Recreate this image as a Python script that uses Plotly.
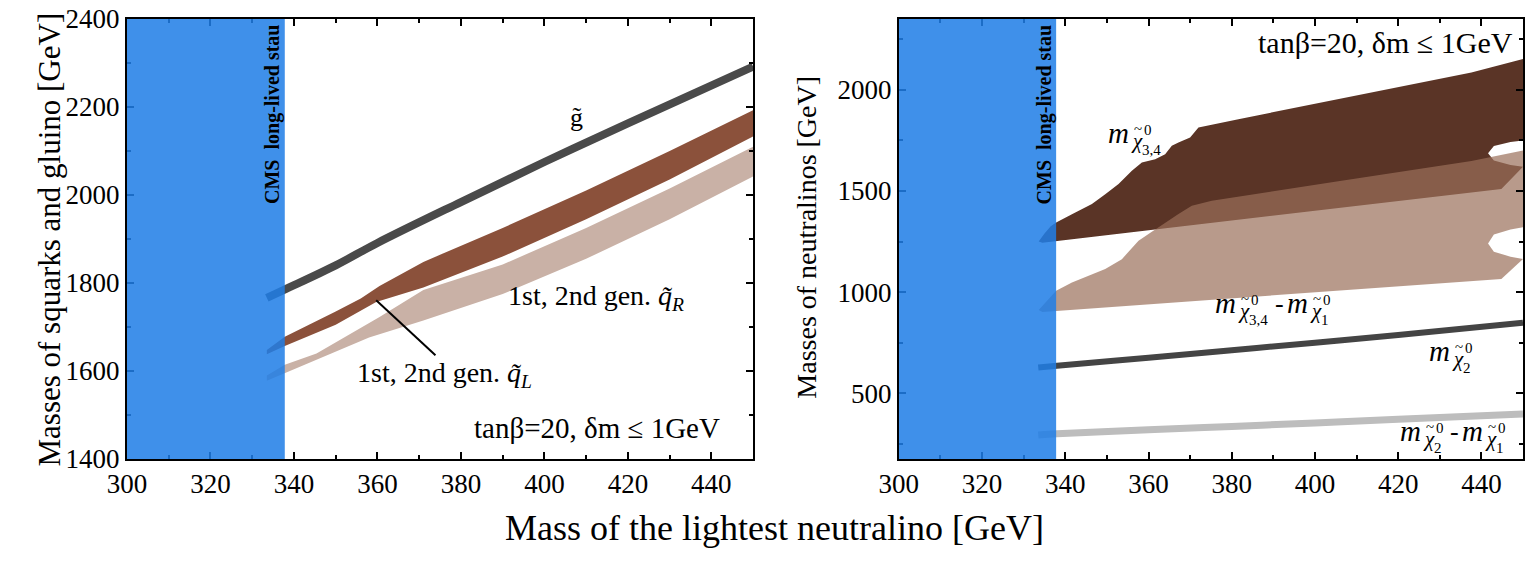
import plotly.graph_objects as go

# ---------------- data: left panel (squarks & gluino) ----------------
gluino_x = [333.5, 338, 350, 360, 380, 400, 420, 450]
gluino_y = [1766, 1786, 1840, 1891, 1984, 2075, 2163, 2292]

qR_up_x = [333.5, 337.8, 350, 356, 360.5, 371, 390, 410, 430, 450]
qR_up_y = [1648, 1678, 1735, 1765, 1793, 1848, 1925, 2010, 2100, 2193]
qR_lo_x = [333.5, 337.8, 350, 359.7, 371, 390, 410, 430, 450]
qR_lo_y = [1638, 1657, 1705, 1757, 1790, 1860, 1945, 2035, 2133]

qL_up_x = [333.5, 337.8, 345.4, 360.5, 371, 390, 410, 430, 450]
qL_up_y = [1590, 1614, 1640, 1723, 1784, 1842, 1925, 2015, 2110]
qL_lo_x = [333.5, 337.8, 358, 371, 390, 410, 430, 450]
qL_lo_y = [1578, 1595, 1676, 1715, 1775, 1855, 1945, 2042]

# ---------------- data: right panel (neutralinos) ----------------
chi34_up_x = [333.6, 335, 336.5, 337.8, 341.6, 346.4, 349.6, 352.8, 356, 358.4, 361.6, 364,
              365.6, 367.2, 370, 372, 381.6, 405.6, 437.6, 450]
chi34_up_y = [1250, 1290, 1325, 1344, 1385, 1435, 1484, 1534, 1600, 1641, 1657, 1682,
              1723, 1740, 1764, 1814, 1855, 1954, 2086, 2152]
chi34_edge_x = [450, 447, 443, 441.6, 443, 447, 450, 444.8, 337.8, 334.5]
chi34_edge_y = [1750, 1742, 1722, 1686, 1650, 1628, 1620, 1510, 1254, 1244]

dchi_up_x = [333.6, 335, 336.5, 337.8, 341.6, 349.6, 353.6, 357.6, 360, 364, 367.2, 370.4,
             375.2, 405.6, 437.6, 450]
dchi_up_y = [912, 945, 980, 1007, 1048, 1114, 1163, 1254, 1287, 1344, 1386, 1427,
             1451, 1548, 1648, 1700]
dchi_edge_x = [450, 447, 443, 441.6, 443, 447, 450, 444.8, 337.8, 334.5]
dchi_edge_y = [1320, 1310, 1285, 1240, 1200, 1175, 1164, 1065, 908, 902]

chi2_x = [333.5, 338, 360, 380, 400, 420, 450]
chi2_y = [627, 636, 676, 713, 750, 788, 849]

dchi2_x = [333.5, 338, 360, 380, 400, 420, 450]
dchi2_y = [294, 300, 319, 336, 353, 371, 397]

stau_limit = 337.8
x_range = [300, 450]
left_y_range = [1400, 2400]
right_y_range = [175, 2350]

FONT = "Liberation Serif"
BLUE = "rgba(32,126,231,0.86)"

fig = go.Figure()

def band(xs_up, ys_up, xs_lo, ys_lo, color, xa, ya):
    return go.Scatter(x=list(xs_up) + list(xs_lo)[::-1], y=list(ys_up) + list(ys_lo)[::-1],
                      fill="toself", fillcolor=color, mode="lines", line=dict(width=0),
                      xaxis=xa, yaxis=ya, hoverinfo="skip", showlegend=False)

# left panel
fig.add_trace(band(qL_up_x, qL_up_y, qL_lo_x, qL_lo_y, "#c9b1a6", "x", "y"))
fig.add_trace(band(qR_up_x, qR_up_y, qR_lo_x, qR_lo_y, "#8b513b", "x", "y"))
fig.add_trace(go.Scatter(x=gluino_x, y=gluino_y, mode="lines",
                         line=dict(color="#4a4a4a", width=8, shape="spline"),
                         xaxis="x", yaxis="y", showlegend=False))

# right panel
fig.add_trace(go.Scatter(x=chi34_up_x + chi34_edge_x, y=chi34_up_y + chi34_edge_y, fill="toself",
                         fillcolor="#5a3426", mode="lines", line=dict(width=0),
                         xaxis="x2", yaxis="y2", showlegend=False))
fig.add_trace(go.Scatter(x=dchi_up_x + dchi_edge_x, y=dchi_up_y + dchi_edge_y, fill="toself",
                         fillcolor="rgba(154,111,90,0.7)", mode="lines", line=dict(width=0),
                         xaxis="x2", yaxis="y2", showlegend=False))
fig.add_trace(go.Scatter(x=chi2_x, y=chi2_y, mode="lines",
                         line=dict(color="#444444", width=6, shape="spline"),
                         xaxis="x2", yaxis="y2", showlegend=False))
fig.add_trace(go.Scatter(x=dchi2_x, y=dchi2_y, mode="lines",
                         line=dict(color="#bdbdbd", width=7, shape="spline"),
                         xaxis="x2", yaxis="y2", showlegend=False))

# blue excluded regions
for xr, yr in (("x", "y domain"), ("x2", "y2 domain")):
    fig.add_shape(type="rect", xref=xr, yref=yr, x0=x_range[0], x1=stau_limit, y0=0, y1=1,
                  fillcolor=BLUE, line=dict(width=0), layer="above")

axis_common = dict(showgrid=False, zeroline=False, showline=True, linecolor="black", linewidth=2,
                   mirror="allticks", ticks="inside", ticklen=7, tickwidth=1.5, tickcolor="black",
                   tickfont=dict(family=FONT, size=27, color="black"))
fig.update_layout(
    width=1526, height=571, plot_bgcolor="white", paper_bgcolor="white",
    margin=dict(l=127, r=1, t=19, b=112), showlegend=False,
    xaxis=dict(domain=[0, 0.4485], range=x_range, dtick=20, tick0=300, anchor="y",
               minor=dict(dtick=10, ticks="inside", ticklen=4, tickcolor="black"), **axis_common),
    yaxis=dict(domain=[0, 1], range=left_y_range, dtick=200, tick0=1400, anchor="x",
               minor=dict(dtick=100, ticks="inside", ticklen=4, tickcolor="black"), **axis_common),
    xaxis2=dict(domain=[0.5529, 1], range=x_range, dtick=20, tick0=300, anchor="y2",
                minor=dict(dtick=10, ticks="inside", ticklen=4, tickcolor="black"), **axis_common),
    yaxis2=dict(domain=[0, 1], range=right_y_range, dtick=500, tick0=0, anchor="x2",
                minor=dict(dtick=250, ticks="inside", ticklen=4, tickcolor="black"), **axis_common),
)

ann = []
def A(size=26, **kw):
    d = dict(showarrow=False, font=dict(family=FONT, size=size, color="black"))
    d.update(kw)
    ann.append(d)

def mass_label(x, y, idx, xref, yref, dx=0):
    # italic m with stacked neutralino index  (m_{chi~^0_idx})
    common = dict(x=x, y=y, xref=xref, yref=yref, xanchor="left", yanchor="middle")
    A(size=29, text="<i>m</i>", xshift=dx, **common)
    A(size=21, text="<i>\u03c7</i>", xshift=dx + 23, yshift=-8, **common)
    A(size=15, text="~", xshift=dx + 26, yshift=4, **common)
    A(size=15, text="0", xshift=dx + 36, yshift=3, **common)
    A(size=15, text=idx, xshift=dx + 34, yshift=-17, **common)

# stau labels
for xr, yr in (("x", "y domain"), ("x2", "y2 domain")):
    A(size=20, text="<b>CMS  long-lived stau</b>", x=335, y=0.99, xref=xr, yref=yr, textangle=-90,
      xanchor="center", yanchor="top")

# left panel labels
A(text="g\u0303", x=407.8, y=2177, xref="x", yref="y")
A(size=28, text="1st, 2nd gen. <i>q\u0303</i><sub><i>R</i></sub>", x=412.4, y=1766, xref="x", yref="y")
A(size=28, text="1st, 2nd gen. <i>q\u0303</i><sub><i>L</i></sub>", x=376, y=1592, xref="x", yref="y")
A(size=29, text="tan\u03b2=20, \u03b4m \u2264 1GeV", x=442.5, y=1470, xref="x", yref="y", xanchor="right")

# right panel labels
mass_label(349.9, 1785, "3,4", "x2", "y2")
mass_label(375.6, 945, "3,4", "x2", "y2")
A(size=26, text="-", x=375.6, y=945, xref="x2", yref="y2", xanchor="left", xshift=60)
mass_label(375.6, 945, "1", "x2", "y2", dx=72)
mass_label(427.0, 710, "2", "x2", "y2")
mass_label(420.0, 312, "2", "x2", "y2")
A(size=26, text="-", x=420.0, y=312, xref="x2", yref="y2", xanchor="left", xshift=50)
mass_label(420.0, 312, "1", "x2", "y2", dx=62)
A(size=30, text="tan\u03b2=20, \u03b4m \u2264 1GeV", x=448.0, y=2236, xref="x2", yref="y2", xanchor="right")

# axis titles
A(size=31, text="Masses of squarks and gluino [GeV]", x=-0.0694, y=0.498, xref="paper", yref="paper", textangle=-90)
A(size=28, text="Masses of neutralinos [GeV]", x=0.487, y=0.505, xref="paper", yref="paper", textangle=-90)
A(size=36, text="Mass of the lightest neutralino [GeV]", x=0.4635, y=-0.207, xref="paper", yref="paper")

fig.update_layout(annotations=ann)

# leader line for q_L label
leader_x = [359.7, 373.9]
leader_y = [1761, 1636]
fig.add_shape(type="line", xref="x", yref="y", x0=leader_x[0], y0=leader_y[0], x1=leader_x[1], y1=leader_y[1],
              line=dict(color="black", width=2))

fig.write_html("out.html", config={"displayModeBar": False},
               post_script="document.body.style.margin='0px';")
